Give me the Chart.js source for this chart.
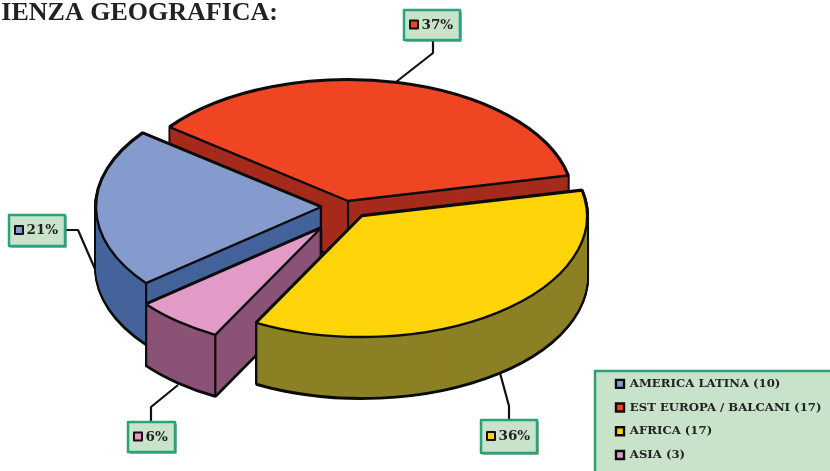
<!DOCTYPE html>
<html><head><meta charset="utf-8">
<style>html,body{margin:0;padding:0;background:#fff;overflow:hidden}canvas{display:block}</style>
<script src="https://cdn.jsdelivr.net/npm/chart.js@4"></script>
</head><body><canvas id="c" width="830" height="471"></canvas>
<script>
const categories = ["AMERICA LATINA (10)", "EST EUROPA / BALCANI (17)", "AFRICA (17)", "ASIA (3)"];
const counts = [10, 17, 17, 3];
const percentLabels = ["21%", "37%", "36%", "6%"];
const topColors = ["#859BCE", "#F04522", "#FFD408", "#E29AC6"];
const wallColors = ["#44639B", "#A62B1C", "#8C8025", "#8A5376"];
const titleText = "IENZA GEOGRAFICA:";

// drawing layout
const SQUASH = 0.538, DEPTH = 61, RADIUS = 225;
const sliceCx = [321, 348, 362, 321], sliceCy = [207, 201, 216, 228];
const drawOrder = [1, 0, 3, 2];
const callouts = [
  {box: [9, 215, 56, 31], leader: [[65, 230], [78, 230], [95, 269]]},
  {box: [404, 10, 56, 30], leader: [[433, 40], [433, 53], [396, 82]]},
  {box: [481, 420, 56, 33], leader: [[509, 420], [509, 406], [500, 373]]},
  {box: [128, 422, 47, 30], leader: [[151, 422], [151, 407], [178, 385]]}
];
const calloutFont = "bold 13.5px 'DejaVu Serif'";
const GREEN = "#2BA27A", PANEL = "#C9E3CB";

function panel(ctx, x, y, w, h) {
  ctx.fillStyle = "#3a6a58";
  ctx.fillRect(x + 1.5, y + 1.5, w, h);
  ctx.fillStyle = PANEL;
  ctx.fillRect(x, y, w, h);
  ctx.strokeStyle = GREEN;
  ctx.lineWidth = 2.5;
  ctx.strokeRect(x, y, w, h);
}

const pie3d = {
  id: "pie3d",
  afterLayout(chart) {
    const lg = chart.legend;
    lg.left = 604; lg.right = 830; lg.top = 366; lg.bottom = 520;
    lg.width = 226; lg.height = 154;
  },
  beforeDraw(chart) {
    panel(chart.ctx, 595, 371, 240, 105);
  },
  beforeDatasetsDraw(chart) {
    const ctx = chart.ctx;
    const arcs = chart.getDatasetMeta(0).data;
    ctx.fillStyle = "#222";
    ctx.font = "bold 26px 'Liberation Serif'";
    ctx.textAlign = "right"; ctx.textBaseline = "alphabetic";
    ctx.fillText(titleText, 278, 20);

    // leaders sit under the pie
    ctx.strokeStyle = "#111"; ctx.lineWidth = 2.2; ctx.lineJoin = "round";
    callouts.forEach(c => {
      ctx.beginPath();
      c.leader.forEach((p, k) => k ? ctx.lineTo(p[0], p[1]) : ctx.moveTo(p[0], p[1]));
      ctx.stroke();
    });

    const nativeStroke = ctx.stroke;
    ctx.stroke = function () {
      ctx.save();
      ctx.setTransform(1, 0, 0, 1, 0, 0);
      nativeStroke.call(ctx);
      ctx.restore();
    };
    const variant = (arc, over) => {
      const v = Object.create(arc);
      v.options = Object.assign(Object.create(arc.options), over);
      return v;
    };
    drawOrder.forEach(i => {
      const arc = arcs[i];
      const place = d => {
        ctx.setTransform(1, 0, 0, SQUASH, sliceCx[i], sliceCy[i] + d);
        ctx.translate(-arc.x, -arc.y);
      };
      ctx.save();
      const outline = variant(arc, {backgroundColor: "rgba(0,0,0,0)", borderColor: "#0c0c0c", borderWidth: 3.8});
      for (let d = DEPTH; d >= 0; d--) { place(d); outline.draw(ctx); }
      const wall = variant(arc, {backgroundColor: wallColors[i], borderWidth: 0});
      for (let d = DEPTH - 1; d >= 0; d--) { place(d); wall.draw(ctx); }
      ctx.setTransform(1, 0, 0, 1, 0, 0);
      ctx.strokeStyle = "#0c0c0c"; ctx.lineWidth = 2.2;
      const R = arc.outerRadius;
      // vertical edges: the apex, and only the rim corners on the front half
      const edges = [[0, 0]];
      [arc.startAngle, arc.endAngle].forEach(a => {
        if (Math.sin(a) > 0) edges.push([Math.cos(a) * R, Math.sin(a) * R * SQUASH]);
      });
      edges.forEach(p => {
        ctx.beginPath();
        ctx.moveTo(sliceCx[i] + p[0], sliceCy[i] + p[1]);
        ctx.lineTo(sliceCx[i] + p[0], sliceCy[i] + p[1] + DEPTH);
        ctx.stroke();
      });
      place(0);
      arc.draw(ctx);
      ctx.restore();
    });
    delete ctx.stroke;

    // callouts
    callouts.forEach((c, i) => {
      const [x, y, w, h] = c.box;
      panel(ctx, x, y, w, h);
      ctx.fillStyle = topColors[i];
      ctx.strokeStyle = "#111"; ctx.lineWidth = 2;
      const sy = y + h / 2 - 4.5;
      ctx.fillRect(x + 6, sy, 8, 8);
      ctx.strokeRect(x + 6, sy, 8, 8);
      ctx.fillStyle = "#222";
      ctx.font = calloutFont;
      ctx.textAlign = "left"; ctx.textBaseline = "middle";
      ctx.fillText(percentLabels[i], x + 17.5, y + h / 2);
    });
    return false;
  }
};

new Chart(document.getElementById("c"), {
  type: "pie",
  data: {
    labels: categories,
    datasets: [{
      data: counts,
      backgroundColor: topColors,
      borderColor: "#0c0c0c",
      borderWidth: 2.4
    }]
  },
  options: {
    responsive: false,
    animation: false,
    rotation: 231,
    radius: RADIUS,
    layout: {padding: 0},
    events: [],
    plugins: {
      tooltip: {enabled: false},
      title: {display: false},
      legend: {
        display: true,
        position: "chartArea",
        align: "start",
        labels: {
          color: "#222",
          boxWidth: 8, boxHeight: 8,
          padding: 12,
          font: {family: "'DejaVu Serif'", weight: "bold", size: 11.7}
        }
      }
    }
  },
  plugins: [pie3d]
});
</script></body></html>
